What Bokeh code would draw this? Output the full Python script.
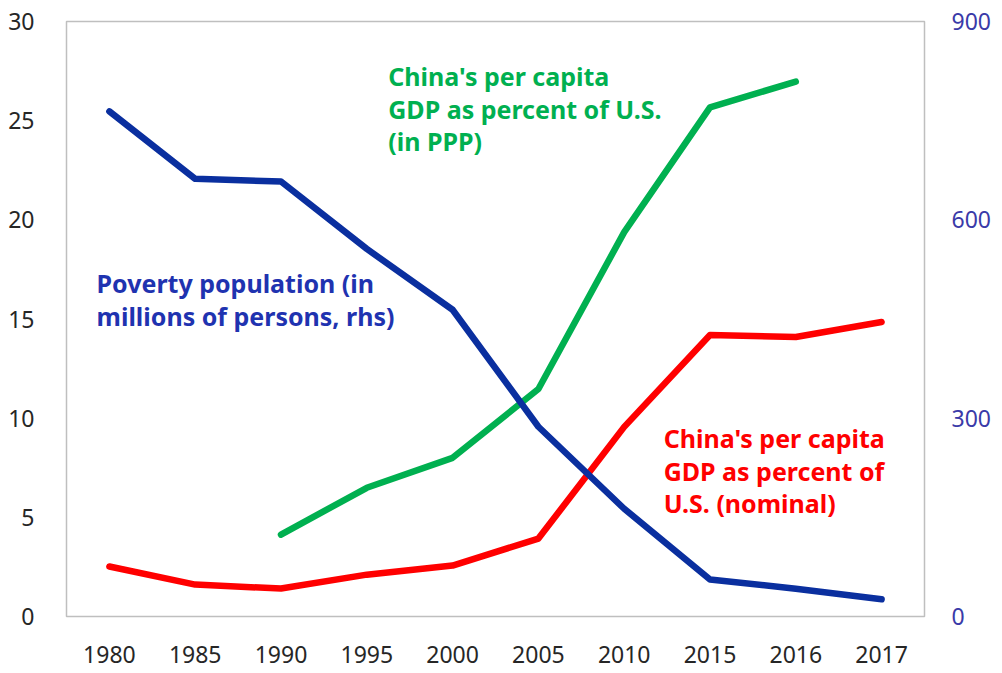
from bokeh.plotting import figure
from bokeh.models import Range1d, LinearAxis, FixedTicker, Label
from bokeh.embed import file_html
from bokeh.resources import INLINE

years = ["1980", "1985", "1990", "1995", "2000", "2005", "2010", "2015", "2016", "2017"]
nominal = [2.52, 1.61, 1.41, 2.11, 2.57, 3.93, 9.56, 14.19, 14.09, 14.85]
ppp_years = ["1990", "1995", "2000", "2005", "2010", "2015", "2016"]
ppp = [4.13, 6.49, 8.0, 11.47, 19.38, 25.67, 26.97]
poverty = [764, 662, 658, 556, 464, 287, 163, 56, 42, 26]

left_ticks = [0, 5, 10, 15, 20, 25, 30]
right_ticks = [0, 300, 600, 900]

FONT = "Noto Sans"
BLUE = "#0a2f9f"
GREEN = "#00b050"
RED = "#ff0000"

xi = list(range(len(years)))
ppp_x = [years.index(y) for y in ppp_years]

p = figure(frame_width=858, frame_height=595, output_backend="svg", toolbar_location=None,
           x_range=Range1d(-0.5, len(years) - 0.5), y_range=Range1d(0, 30),
           min_border_left=66, min_border_right=40, min_border_top=21, min_border_bottom=56)
p.extra_y_ranges = {"rhs": Range1d(0, 900)}

p.outline_line_color = "#bfbfbf"
p.outline_line_width = 1.5
p.grid.visible = False
p.background_fill_color = "white"

p.xaxis.ticker = FixedTicker(ticks=xi)
p.xaxis.major_label_overrides = {i: y for i, y in enumerate(years)}
p.yaxis.ticker = FixedTicker(ticks=left_ticks)

rax = LinearAxis(y_range_name="rhs", ticker=FixedTicker(ticks=right_ticks))
p.add_layout(rax, "right")

for ax in [p.xaxis[0], p.yaxis[0], rax]:
    ax.axis_line_color = None
    ax.major_tick_line_color = None
    ax.minor_tick_line_color = None
    ax.major_label_text_font = FONT
    ax.major_label_text_font_size = "23px"
    ax.major_label_text_color = "#262626"
p.xaxis.major_label_standoff = 23
p.yaxis.major_label_standoff = 26
rax.major_label_standoff = 21
rax.major_label_text_color = "#3a3aa8"

p.line(xi, nominal, line_color=RED, line_width=6.5, line_join="round", line_cap="round")
p.line(ppp_x, ppp, line_color=GREEN, line_width=6.5, line_join="round", line_cap="round")
p.line(xi, poverty, y_range_name="rhs", line_color=BLUE, line_width=6.5, line_join="round", line_cap="round")

def note(x, y, text, color):
    p.add_layout(Label(x=x, y=y, text=text, text_color=color, text_font=FONT,
                       text_font_style="bold", text_font_size="25px",
                       text_baseline="top", text_align="left", text_line_height=0.96))

note(3.25, 28.1, "China's per capita\nGDP as percent of U.S.\n(in PPP)", GREEN)
note(-0.15, 17.65, "Poverty population (in\nmillions of persons, rhs)", "#1f33b0")
note(6.46, 9.85, "China's per capita\nGDP as percent of\nU.S. (nominal)", RED)

open("out.html", "w").write(file_html(p, INLINE))
